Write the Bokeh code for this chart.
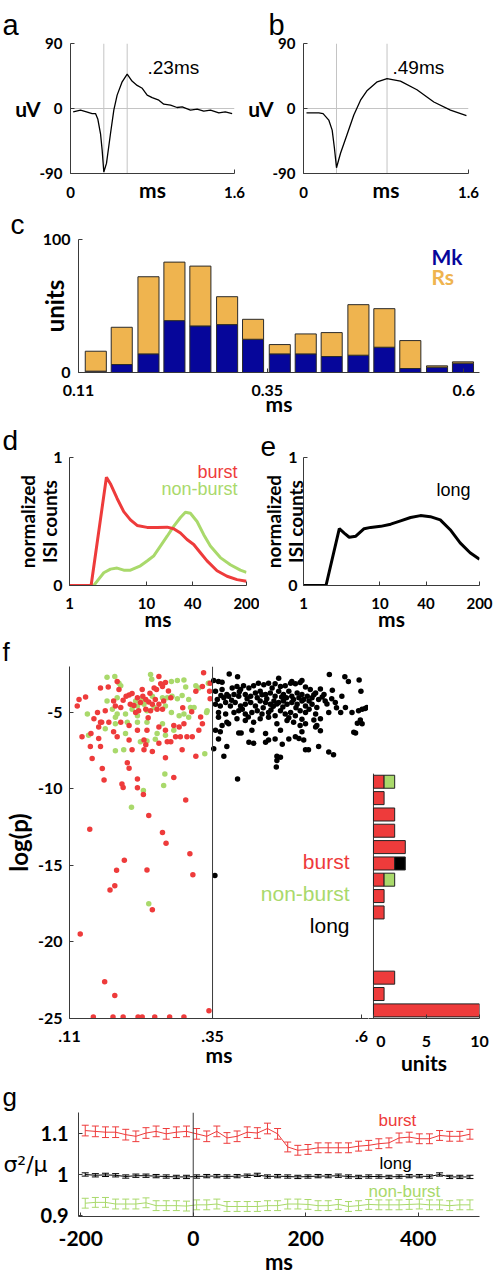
from bokeh.plotting import figure
from bokeh.layouts import column, row
from bokeh.models import (Range1d, FixedTicker, Label, Span, ColumnDataSource,
                          Whisker, TeeHead, CustomJSTickFormatter)
from bokeh.embed import file_html
from bokeh.resources import INLINE

RED = "#ee3b3b"
GREEN = "#a9d96b"
BLUE = "#06069a"
ORANGE = "#efb44f"
AX = "#3a3a3a"
TICKFONT = "Lato"
TXTFONT = "Liberation Sans"

# ---------------- data ----------------
# (a) narrow spike waveform
wave_a_ms = [0.026, 0.098, 0.156, 0.211, 0.244, 0.267, 0.293, 0.309, 0.325, 0.351, 0.39, 0.423,
             0.455, 0.504, 0.553, 0.60, 0.65, 0.70, 0.748, 0.797, 0.862, 0.91, 0.976, 1.04,
             1.09, 1.17, 1.236, 1.30, 1.366, 1.447, 1.51, 1.577]
wave_a_uv = [-4.6, -2.3, -4.6, -7, -7, -15, -35, -58, -88, -76, -35, -2,
             18.5, 37, 47.5, 38, 32, 28, 18.5, 15, 11.5, 6, 4.6, 1.4,
             2.3, -2.3, -1, -3.7, -2.3, -6, -4.6, -7]
a_trough_ms, a_peak_ms = 0.325, 0.553
# (b) broad spike waveform
wave_b_ms = [0.029, 0.149, 0.19, 0.245, 0.278, 0.30, 0.32, 0.359, 0.42, 0.488, 0.553, 0.618,
             0.715, 0.81, 0.94, 1.10, 1.264, 1.425, 1.58]
wave_b_uv = [-6, -6, -7, -16, -30, -55, -82, -62, -37, -9, 11.5, 25,
             37, 41.5, 38, 26, 9, -2.3, -10]
b_trough_ms, b_peak_ms = 0.32, 0.81

# (c) spike width histogram
width_bins = [0.132, 0.165, 0.199, 0.232, 0.265, 0.299, 0.332, 0.366, 0.399, 0.432, 0.466,
              0.499, 0.532, 0.566, 0.599]
mk_units = [1, 6, 14, 39, 35, 36, 25, 14, 14, 12, 13, 19, 3, 4, 7]
rs_units = [15, 28, 58, 44, 45, 21, 15, 7, 15, 18, 38, 29, 21, 1, 1]

# (d) ISI distributions
isi_ms_burst = [1.0, 1.91, 3.02, 3.4, 4.16, 5.07, 6.2, 7.57, 10.2, 13.8, 18.6, 22.6, 27.7, 33.7,
                41.2, 50.3, 61.4, 82.8, 111.7, 150.7, 200]
isi_burst = [0, 0, 0.846, 0.795, 0.68, 0.577, 0.513, 0.469, 0.454, 0.454, 0.456, 0.444, 0.41,
             0.359, 0.32, 0.256, 0.192, 0.115, 0.072, 0.046, 0.033]
isi_ms_nonburst = [1.0, 2.07, 2.4, 2.79, 3.41, 4.16, 5.07, 6.2, 8.36, 10.2, 12.4, 15.2, 18.6,
                   22.6, 27.7, 32.1, 37.3, 45.5, 55.6, 67.8, 91.4, 123.3, 166.3, 200]
isi_nonburst = [0, 0, 0.05, 0.10, 0.128, 0.136, 0.12, 0.12, 0.154, 0.192, 0.23, 0.308, 0.385,
                0.462, 0.531, 0.572, 0.564, 0.5, 0.397, 0.308, 0.218, 0.162, 0.12, 0.103]
# (e)
isi_ms_long = [1.0, 1.97, 2.94, 3.41, 3.96, 4.83, 6.2, 7.57, 10.2, 13.8, 18.6, 25.1, 33.8, 45.5,
               61.4, 82.8, 111.7, 150.7, 200]
isi_long = [0, 0, 0.444, 0.41, 0.377, 0.385, 0.444, 0.454, 0.462, 0.479, 0.505, 0.531, 0.546,
            0.538, 0.513, 0.436, 0.333, 0.256, 0.205]

# (f) spike width (ms) vs log(p)
burst_pts = [
    (0.123, -4.58), (0.126, -4.15), (0.137, -4.00), (0.162, -3.41), (0.175, -3.34), (0.190, -2.98),
    (0.193, -3.51), (0.210, -3.87), (0.215, -3.77), (0.232, -3.51), (0.233, -3.94), (0.224, -4.05),
    (0.229, -4.36), (0.238, -4.15), (0.243, -4.32), (0.249, -4.47), (0.252, -3.41), (0.256, -3.50),
    (0.260, -2.66), (0.263, -3.13), (0.266, -3.30), (0.271, -3.05), (0.268, -4.26), (0.260, -4.47),
    (0.254, -4.15), (0.257, -4.79), (0.266, -4.79), (0.246, -4.89), (0.238, -4.79), (0.226, -4.89),
    (0.221, -5.00), (0.212, -4.47), (0.196, -4.68), (0.187, -4.58), (0.184, -4.26), (0.170, -4.89),
    (0.157, -5.00), (0.210, -5.85), (0.196, -5.64), (0.176, -5.64), (0.162, -5.64), (0.159, -5.96),
    (0.151, -5.42), (0.184, -6.27), (0.224, -6.17), (0.240, -6.17), (0.260, -5.96), (0.271, -6.17),
    (0.285, -5.85), (0.294, -5.96), (0.302, -5.74), (0.307, -6.59), (0.316, -6.59), (0.327, -6.17),
    (0.333, -5.74), (0.296, -6.59), (0.288, -6.59), (0.280, -6.91), (0.274, -6.91), (0.260, -7.02),
    (0.235, -6.80), (0.238, -7.12), (0.210, -6.80), (0.190, -6.59), (0.159, -6.70), (0.131, -6.59),
    (0.145, -7.23), (0.162, -7.23), (0.215, -7.44), (0.235, -7.44), (0.249, -7.55), (0.271, -7.97),
    (0.299, -7.44), (0.322, -7.87), (0.148, -8.01), (0.207, -8.29), (0.210, -8.65), (0.165, -8.67),
    (0.285, -9.25), (0.224, -9.35), (0.198, -9.67), (0.168, -9.42), (0.322, -3.62), (0.333, -3.30),
    (0.335, -2.41), (0.146, -6.38), (0.164, -5.64), (0.345, -3.62), (0.346, -4.10), (0.346, -3.10),
    (0.200, -4.20), (0.205, -3.95), (0.245, -3.75), (0.276, -3.60), (0.280, -4.05), (0.218, -4.55),
    (0.242, -5.35), (0.300, -4.70), (0.315, -4.95), (0.330, -5.30),
    (0.200, -9.90), (0.224, -9.92), (0.234, -10.37), (0.243, -11.73), (0.266, -12.85), (0.272, -13.55),
    (0.305, -10.73), (0.312, -14.24), (0.317, -15.60), (0.144, -12.64), (0.202, -14.66), (0.189, -15.32),
    (0.240, -15.30), (0.186, -16.33), (0.178, -16.60), (0.249, -17.90), (0.128, -19.48), (0.169, -22.60),
    (0.186, -23.50), (0.344, -24.50),
    (0.150, -24.9), (0.183, -24.9), (0.200, -24.9), (0.225, -24.9), (0.232, -24.9), (0.253, -24.9),
    (0.278, -24.9), (0.302, -24.9)]
nonburst_pts = [
    (0.173, -2.71), (0.186, -2.66), (0.246, -2.52), (0.193, -3.09), (0.196, -3.26), (0.248, -2.83),
    (0.281, -2.98), (0.291, -2.92), (0.302, -2.88), (0.305, -3.34), (0.322, -3.26), (0.327, -3.41),
    (0.344, -3.09), (0.190, -4.05), (0.173, -4.26), (0.221, -4.26), (0.232, -4.15), (0.249, -3.94),
    (0.266, -4.05), (0.274, -4.05), (0.282, -3.94), (0.291, -4.11), (0.299, -3.90), (0.310, -4.15),
    (0.313, -4.68), (0.319, -4.68), (0.341, -4.89), (0.140, -5.11), (0.182, -4.79), (0.190, -5.11),
    (0.187, -5.32), (0.204, -5.11), (0.215, -4.79), (0.224, -5.21), (0.224, -4.58), (0.235, -4.47),
    (0.240, -4.89), (0.252, -4.68), (0.271, -4.58), (0.281, -5.00), (0.294, -5.21), (0.302, -5.11),
    (0.310, -5.32), (0.266, -5.74), (0.240, -5.64), (0.224, -5.64), (0.207, -5.64), (0.187, -5.74),
    (0.170, -6.06), (0.142, -6.49), (0.204, -6.38), (0.257, -6.38), (0.271, -6.49), (0.285, -6.17),
    (0.229, -6.91), (0.240, -6.87), (0.254, -6.76), (0.187, -7.51), (0.201, -7.44), (0.270, -9.03),
    (0.268, -9.78), (0.234, -10.10), (0.214, -11.20), (0.243, -17.50), (0.337, -7.70), (0.343, -3.10),
    (0.340, -5.00)]
long_pts = [
    (0.352, -2.92), (0.360, -2.98), (0.366, -3.03), (0.378, -2.49), (0.392, -2.67), (0.461, -2.77),
    (0.483, -2.98), (0.500, -2.92), (0.546, -2.52), (0.572, -2.67), (0.578, -2.98), (0.596, -2.88),
    (0.599, -3.62), (0.606, -4.75), (0.601, -4.79), (0.609, -4.68),
    (0.355, -3.62), (0.366, -3.51), (0.374, -3.83), (0.383, -3.41), (0.391, -3.30), (0.397, -3.51),
    (0.402, -3.26), (0.411, -3.41), (0.419, -3.26), (0.427, -3.09), (0.436, -3.20), (0.444, -3.09),
    (0.450, -3.41), (0.455, -3.13), (0.464, -3.30), (0.472, -3.26), (0.481, -3.09), (0.489, -3.13),
    (0.497, -3.05), (0.506, -3.34), (0.514, -3.51), (0.523, -3.73), (0.531, -3.47), (0.537, -3.83),
    (0.551, -3.56), (0.567, -3.94),
    (0.358, -4.15), (0.369, -4.04), (0.377, -3.94), (0.386, -3.83), (0.394, -3.94), (0.405, -3.83),
    (0.414, -3.94), (0.422, -3.73), (0.430, -3.62), (0.439, -3.83), (0.447, -3.73), (0.455, -3.94),
    (0.461, -3.62), (0.469, -3.83), (0.478, -3.62), (0.483, -3.94), (0.492, -3.73), (0.500, -3.83),
    (0.509, -3.94), (0.517, -4.04), (0.528, -4.15), (0.539, -4.26), (0.556, -4.36), (0.573, -4.68),
    (0.584, -5.00), (0.595, -4.89),
    (0.355, -4.47), (0.363, -4.58), (0.372, -4.36), (0.380, -4.58), (0.388, -4.36), (0.397, -4.58),
    (0.405, -4.47), (0.414, -4.36), (0.422, -4.58), (0.430, -4.26), (0.439, -4.36), (0.447, -4.47),
    (0.453, -4.26), (0.461, -4.36), (0.469, -4.26), (0.475, -4.47), (0.483, -4.36), (0.492, -4.47),
    (0.500, -4.26), (0.506, -4.58), (0.517, -4.47), (0.525, -4.68), (0.545, -5.00), (0.565, -5.00),
    (0.360, -5.00), (0.372, -5.11), (0.386, -5.00), (0.394, -4.89), (0.405, -5.11), (0.416, -5.00),
    (0.425, -4.89), (0.433, -5.11), (0.444, -5.00), (0.455, -5.21), (0.464, -4.89), (0.472, -5.11),
    (0.481, -5.00), (0.489, -5.21), (0.497, -4.89), (0.506, -5.00), (0.523, -5.11),
    (0.360, -5.32), (0.374, -5.64), (0.391, -5.42), (0.405, -5.53), (0.419, -5.64), (0.430, -5.42),
    (0.444, -5.32), (0.458, -5.74), (0.475, -5.53), (0.486, -5.64), (0.497, -5.85), (0.506, -5.74),
    (0.525, -5.85), (0.531, -5.42),
    (0.366, -5.85), (0.377, -5.74), (0.416, -6.17), (0.439, -6.38), (0.464, -6.17), (0.500, -6.27),
    (0.523, -5.96), (0.531, -6.20), (0.601, -5.74), (0.590, -6.34), (0.593, -5.70), (0.598, -5.50),
    (0.587, -6.30),
    (0.355, -6.17), (0.363, -6.27), (0.394, -6.34), (0.398, -6.34), (0.444, -6.80), (0.455, -6.74),
    (0.489, -6.59), (0.495, -6.70), (0.503, -6.80), (0.528, -7.23), (0.439, -6.95),
    (0.360, -6.74), (0.352, -7.38), (0.374, -7.23), (0.411, -6.95), (0.419, -7.02), (0.467, -7.08),
    (0.478, -6.74), (0.506, -7.44), (0.511, -7.44), (0.545, -7.59), (0.553, -7.76),
    (0.369, -7.87), (0.458, -7.87), (0.464, -7.93), (0.458, -8.14), (0.457, -8.57), (0.392, -9.35),
    (0.354, -15.66),
    (0.395, -3.65), (0.408, -4.10), (0.425, -4.05), (0.433, -3.85), (0.441, -4.10), (0.452, -4.60),
    (0.458, -4.45), (0.466, -4.00), (0.474, -4.05), (0.486, -4.15), (0.495, -4.05), (0.503, -4.15),
    (0.512, -4.25), (0.520, -3.85), (0.534, -4.00), (0.542, -4.45), (0.550, -4.10), (0.558, -4.70),
    (0.435, -4.70), (0.448, -4.85), (0.468, -4.65), (0.490, -4.70), (0.512, -4.80), (0.400, -4.80),
    (0.382, -4.20), (0.364, -3.90), (0.410, -5.30), (0.478, -5.35), (0.500, -5.45), (0.520, -5.50)]
# (f) histogram of log(p) for the most significant units
logp_bins = [-9.53, -10.6, -11.67, -12.73, -13.8, -14.87, -15.93, -17.0, -18.07, -19.13,
             -20.2, -21.27, -22.33, -23.4, -24.47]
logp_top_edge = -9.0
hist_burst = [1, 1, 2, 2, 3, 2, 1, 1, 1, 0, 0, 0, 2, 1, 10]
hist_nonburst = [1, 0, 0, 0, 0, 0, 1, 0, 0, 0, 0, 0, 0, 0, 0]
hist_long = [0, 0, 0, 0, 0, 1, 0, 0, 0, 0, 0, 0, 0, 0, 0]

# (g) Fano factor around event
ff_ms = [-192, -174, -156, -138, -120, -102, -84, -66, -48, -30, -12, 6, 24, 42, 60, 78, 96,
         114, 132, 150, 168, 186, 204, 222, 240, 258, 276, 294, 312, 330, 348, 366, 384, 402,
         420, 438, 456, 474, 492]
ff_burst = [1.107, 1.105, 1.103, 1.103, 1.097, 1.093, 1.101, 1.105, 1.099, 1.103, 1.105, 1.099,
            1.093, 1.105, 1.089, 1.093, 1.103, 1.101, 1.112, 1.099, 1.067, 1.059, 1.061, 1.065,
            1.065, 1.065, 1.065, 1.069, 1.071, 1.075, 1.077, 1.089, 1.091, 1.087, 1.087, 1.095,
            1.093, 1.093, 1.098]
ff_burst_err = [0.013, 0.013, 0.013, 0.013, 0.013, 0.013, 0.013, 0.013, 0.013, 0.013, 0.013, 0.013,
                0.013, 0.013, 0.013, 0.013, 0.013, 0.013, 0.013, 0.013, 0.012, 0.012, 0.012, 0.012,
                0.012, 0.012, 0.012, 0.012, 0.012, 0.012, 0.012, 0.012, 0.012, 0.012, 0.012, 0.012,
                0.012, 0.012, 0.012]
ff_long = [1.000, 0.998, 0.999, 0.998, 0.995, 0.997, 0.997, 0.996, 0.995, 0.994, 0.994, 0.995,
           0.996, 0.996, 0.995, 0.996, 0.997, 0.999, 0.995, 0.996, 0.995, 0.994, 0.995, 0.996,
           0.996, 0.997, 0.995, 0.994, 0.995, 0.995, 0.994, 0.995, 0.996, 0.996, 0.995, 1.000,
           0.994, 0.994, 0.994]
ff_long_err = [0.004, 0.004, 0.004, 0.004, 0.004, 0.004, 0.004, 0.004, 0.004, 0.004, 0.004, 0.004,
               0.004, 0.004, 0.004, 0.004, 0.004, 0.004, 0.004, 0.004, 0.004, 0.004, 0.004, 0.004,
               0.004, 0.004, 0.004, 0.004, 0.004, 0.004, 0.004, 0.004, 0.004, 0.004, 0.004, 0.004,
               0.004, 0.004, 0.004]
ff_nonburst = [0.930, 0.932, 0.932, 0.928, 0.928, 0.928, 0.931, 0.924, 0.924, 0.924, 0.923, 0.926,
               0.926, 0.928, 0.922, 0.922, 0.922, 0.922, 0.924, 0.924, 0.928, 0.928, 0.927, 0.924,
               0.924, 0.927, 0.922, 0.924, 0.927, 0.926, 0.926, 0.926, 0.927, 0.928, 0.926, 0.926,
               0.924, 0.926, 0.926]
ff_nonburst_err = [0.012, 0.012, 0.012, 0.012, 0.012, 0.012, 0.012, 0.012, 0.012, 0.012, 0.012,
                   0.012, 0.012, 0.012, 0.012, 0.012, 0.012, 0.012, 0.012, 0.012, 0.012, 0.012,
                   0.012, 0.012, 0.012, 0.012, 0.012, 0.012, 0.012, 0.012, 0.012, 0.012, 0.012,
                   0.012, 0.012, 0.012, 0.012, 0.012, 0.012]


# ---------------- helpers ----------------
def make(w, h, bl, br, bt, bb, xr, yr, xtype="linear"):
    p = figure(width=w, height=h, x_range=xr, y_range=yr, x_axis_type=xtype,
               output_backend="svg", toolbar_location=None,
               min_border_left=bl, min_border_right=br, min_border_top=bt, min_border_bottom=bb)
    p.outline_line_color = None
    p.xgrid.visible = False
    p.ygrid.visible = False
    p.background_fill_color = "white"
    p.border_fill_color = "white"
    for ax in list(p.xaxis) + list(p.yaxis):
        ax.axis_line_color = AX
        ax.axis_line_width = 1
        ax.major_tick_line_color = AX
        ax.major_tick_in = 4
        ax.major_tick_out = 0
        ax.minor_tick_line_color = None
        ax.major_label_text_font = TICKFONT
        ax.major_label_text_font_style = "bold"
        ax.major_label_text_color = "black"
        ax.axis_label_text_font = TICKFONT
        ax.axis_label_text_font_style = "bold"
        ax.axis_label_text_color = "black"
    return p


def ticks(ax, values, size, standoff, code="return String(tick);"):
    ax.ticker = FixedTicker(ticks=values)
    ax.formatter = CustomJSTickFormatter(code=code)
    ax.major_label_text_font_size = f"{size}px"
    ax.major_label_standoff = standoff


def axlabel(ax, text, size, standoff, horizontal=False, line_height=None):
    ax.axis_label = text
    ax.axis_label_text_font_size = f"{size}px"
    ax.axis_label_standoff = standoff
    if horizontal:
        ax.axis_label_orientation = "horizontal"
    if line_height is not None:
        ax.axis_label_text_line_height = line_height


def letter(p, text, offset, standoff, size=28):
    p.title.text = text
    p.title.align = "left"
    p.title.offset = offset
    p.title.standoff = standoff
    p.title.text_font = TXTFONT
    p.title.text_font_style = "normal"
    p.title.text_font_size = f"{size}px"
    p.title.text_color = "black"


def note(p, text, x, y, size, color="black", font=TXTFONT, style="normal", align="left"):
    p.add_layout(Label(x=x, y=y, x_units="screen", y_units="screen", text=text,
                       text_font=font, text_font_size=f"{size}px", text_font_style=style,
                       text_color=color, text_align=align, text_baseline="middle"))


DOT = r"return String(tick).replace(/^0\./, '.');"
HIST0 = r"return tick == 0 ? '\u00a0\u00a00' : String(tick);"

# ---------------- (a) ----------------
pa = make(245, 205, 70, 11, 43, 32, Range1d(0, 1.6), Range1d(-90, 90))
for loc, dim in [(0, "width"), (a_trough_ms, "height"), (a_peak_ms, "height")]:
    pa.add_layout(Span(location=loc, dimension=dim, line_color="#c4c4c4", line_width=1, level="underlay"))
pa.line(wave_a_ms, wave_a_uv, line_color="black", line_width=1.3)
ticks(pa.xaxis[0], [0, 1.6], 15, 13)
ticks(pa.yaxis[0], [-90, 0, 90], 15, 8)
axlabel(pa.xaxis[0], "ms", 21, -24)
axlabel(pa.yaxis[0], "uV", 21, -4, horizontal=True)
letter(pa, "a", -68, 6, size=29)
note(pa, ".23ms", 77, 106, 19)

# ---------------- (b) ----------------
pb = make(250, 205, 58, 27, 43, 32, Range1d(0, 1.6), Range1d(-90, 90))
for loc, dim in [(0, "width"), (b_trough_ms, "height"), (b_peak_ms, "height")]:
    pb.add_layout(Span(location=loc, dimension=dim, line_color="#c4c4c4", line_width=1, level="underlay"))
pb.line(wave_b_ms, wave_b_uv, line_color="black", line_width=1.3)
ticks(pb.xaxis[0], [0, 1.6], 15, 13)
ticks(pb.yaxis[0], [-90, 0, 90], 15, 8)
axlabel(pb.xaxis[0], "ms", 21, -24)
axlabel(pb.yaxis[0], "uV", 21, -4, horizontal=True)
letter(pb, "b", -35, 6, size=29)
note(pb, ".49ms", 89, 106, 19)

# ---------------- (c) ----------------
pc = make(495, 215, 70, 16, 34, 48, Range1d(0.11, 0.62), Range1d(0, 100))
src_c = ColumnDataSource(dict(x=width_bins, mk=mk_units, rs=rs_units))
pc.vbar_stack(["mk", "rs"], x="x", width=0.0268, source=src_c, color=[BLUE, ORANGE],
              line_color="#2a2a2a", line_width=1)
ticks(pc.xaxis[0], [0.11, 0.35, 0.6], 16, 12)
ticks(pc.yaxis[0], [0, 100], 16, 8)
axlabel(pc.xaxis[0], "ms", 21, -8)
axlabel(pc.yaxis[0], "units", 24, -29)
letter(pc, "c", -68, 0)
note(pc, "Mk", 353, 116, 21, color=BLUE, font=TICKFONT, style="bold")
note(pc, "Rs", 353, 96, 21, color=ORANGE, font=TICKFONT, style="bold")

# ---------------- (d) ----------------
pd = make(259, 214, 69, 13, 35, 49, Range1d(1, 200), Range1d(0, 1), xtype="log")
pd.line(isi_ms_nonburst, isi_nonburst, line_color=GREEN, line_width=3)
pd.line(isi_ms_burst, isi_burst, line_color=RED, line_width=3)
ticks(pd.xaxis[0], [1, 10, 40, 200], 15, 12)
ticks(pd.yaxis[0], [0, 1], 16, 7)
axlabel(pd.xaxis[0], "ms", 21, -6)
axlabel(pd.yaxis[0], "normalized\nISI counts", 19, -11, line_height=0.95)
letter(pd, "d", -67, 4)
note(pd, "burst", 168, 114, 18, color=RED, align="right")
note(pd, "non-burst", 168, 97, 18, color=GREEN, align="right")

# ---------------- (e) ----------------
pe = make(236, 214, 43, 16, 35, 49, Range1d(1, 200), Range1d(0, 1), xtype="log")
pe.line(isi_ms_long, isi_long, line_color="black", line_width=3)
ticks(pe.xaxis[0], [1, 10, 40, 200], 15, 12)
ticks(pe.yaxis[0], [0, 1], 16, 6)
axlabel(pe.xaxis[0], "ms", 21, -6)
axlabel(pe.yaxis[0], "normalized\nISI counts", 19, -22, line_height=0.95)
letter(pe, "e", -43, 4)
note(pe, "long", 133, 96, 18)

# ---------------- (f) scatter ----------------
pf = make(368, 443, 69, 0, 29, 53, Range1d(0.11, 0.6117), Range1d(-25, -2))
pf.add_layout(Span(location=0.35, dimension="height", line_color=AX, line_width=1))
pf.scatter([p[0] for p in nonburst_pts], [p[1] for p in nonburst_pts], size=5.5,
           fill_color=GREEN, line_color=None)
pf.scatter([p[0] for p in burst_pts], [p[1] for p in burst_pts], size=5.5,
           fill_color=RED, line_color=None)
pf.scatter([p[0] for p in long_pts], [p[1] for p in long_pts], size=5.5,
           fill_color="black", line_color=None)
ticks(pf.xaxis[0], [0.11, 0.35, 0.6], 16, 12, code=DOT)
ticks(pf.yaxis[0], [-25, -20, -15, -10, -5], 16, 7)
axlabel(pf.xaxis[0], "ms", 21, -3)
axlabel(pf.yaxis[0], "log(p)", 24, 2)
letter(pf, "f", -67, 0, size=26)
note(pf, "burst", 280, 157, 21, color=RED, align="right")
note(pf, "non-burst", 280, 125, 21, color=GREEN, align="right")
note(pf, "long", 280, 93, 21, align="right")

# ---------------- (f) histogram ----------------
ph = make(127, 443, 0, 16, 29, 53, Range1d(-0.47, 10), Range1d(-25, -2))
ph.yaxis.visible = False
ph.segment(x0=[0], y0=[-25], x1=[0], y1=[logp_top_edge], line_color=AX, line_width=1)
rows_r = [(y, r) for y, r in zip(logp_bins, hist_burst) if r > 0]
ph.hbar(y=[a for a, b in rows_r], left=0, right=[b for a, b in rows_r], height=0.85,
        fill_color=RED, line_color="#222222", line_width=1)
rows_g = [(y, r, g) for y, r, g in zip(logp_bins, hist_burst, hist_nonburst) if g > 0]
ph.hbar(y=[a for a, b, c in rows_g], left=[b for a, b, c in rows_g],
        right=[b + c for a, b, c in rows_g], height=0.85,
        fill_color=GREEN, line_color="#222222", line_width=1)
rows_k = [(y, r, k) for y, r, k in zip(logp_bins, hist_burst, hist_long) if k > 0]
ph.hbar(y=[a for a, b, c in rows_k], left=[b for a, b, c in rows_k],
        right=[b + c for a, b, c in rows_k], height=0.85,
        fill_color="black", line_color="#222222", line_width=1)
ticks(ph.xaxis[0], [0, 5, 10], 16, 12, code=HIST0)
axlabel(ph.xaxis[0], "units", 21, -3)

# ---------------- (g) ----------------
pg = make(495, 203, 78, 16, 35, 64, Range1d(-204, 509), Range1d(0.8976, 1.151))
pg.add_layout(Span(location=0, dimension="height", line_color=AX, line_width=1))
for vals, errs, col in [(ff_burst, ff_burst_err, RED), (ff_long, ff_long_err, "black"),
                        (ff_nonburst, ff_nonburst_err, GREEN)]:
    src = ColumnDataSource(dict(t=ff_ms, v=vals,
                                lo=[a - b for a, b in zip(vals, errs)],
                                hi=[a + b for a, b in zip(vals, errs)]))
    pg.line("t", "v", source=src, line_color=col, line_width=1)
    pg.add_layout(Whisker(source=src, base="t", upper="hi", lower="lo", line_color=col,
                          line_width=1,
                          upper_head=TeeHead(size=7, line_color=col, line_width=1),
                          lower_head=TeeHead(size=7, line_color=col, line_width=1)))
ticks(pg.xaxis[0], [-200, 0, 200, 400], 21, 14)
ticks(pg.yaxis[0], [0.9, 1, 1.1], 20, 10)
axlabel(pg.xaxis[0], "ms", 22, -1)
axlabel(pg.yaxis[0], "σ²/μ", 22, -10, horizontal=True)
pg.yaxis[0].axis_label_text_font = "DejaVu Sans"
pg.yaxis[0].axis_label_text_font_style = "normal"
letter(pg, "g", -76, 2, size=26)
note(pg, "burst", 300, 96, 17, color=RED)
note(pg, "long", 301, 53, 17)
note(pg, "non-burst", 290, 25, 17, color=GREEN)

layout = column(row(pa, pb, spacing=0), pc, row(pd, pe, spacing=0),
                row(pf, ph, spacing=0), pg, spacing=0)
open("out.html", "w").write(file_html(layout, INLINE))
